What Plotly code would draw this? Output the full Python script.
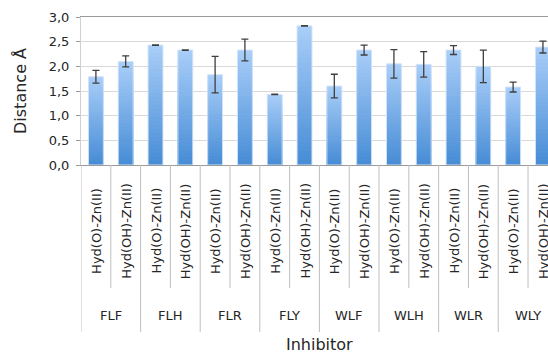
import plotly.graph_objects as go

groups = ["FLF", "FLH", "FLR", "FLY", "WLF", "WLH", "WLR", "WLY"]
subs = ["Hyd(O)-Zn(II)", "Hyd(OH)-Zn(II)"]
values = [1.79, 2.10, 2.43, 2.33, 1.83, 2.33, 1.43, 2.82,
          1.60, 2.33, 2.05, 2.04, 2.33, 2.00, 1.58, 2.39]
errors = [0.13, 0.11, 0.005, 0.005, 0.37, 0.22, 0.005, 0.005,
          0.24, 0.10, 0.29, 0.26, 0.09, 0.33, 0.10, 0.12]
y_ticks = [0, 0.5, 1.0, 1.5, 2.0, 2.5, 3.0]

x = list(range(len(values)))
FONT = "DejaVu Sans"
TXT = "#262626"
TOP = (168, 205, 248)
BOT = (72, 141, 214)
N = 30
BW = 0.5

fig = go.Figure()
for k in range(N):
    frac = (N - k) / N
    t = k / (N - 1)
    c = tuple(round(TOP[j] + (BOT[j] - TOP[j]) * t) for j in range(3))
    fig.add_trace(go.Bar(
        x=x, y=[v * frac for v in values], width=BW,
        marker=dict(color="rgb(%d,%d,%d)" % c, line=dict(width=0)),
        hoverinfo="skip", showlegend=False))

fig.add_trace(go.Bar(
    x=x, y=values, width=BW,
    marker=dict(color="rgba(0,0,0,0)", line=dict(color="#d3e4f8", width=1)),
    error_y=dict(type="data", array=errors, visible=True,
                 color="#3f3f3f", thickness=1.3, width=3.5),
    showlegend=False))

PH = 148.0
shapes = []
annotations = []
for i in range(len(values)):
    annotations.append(dict(
        x=x[i], xref="x", y=0, yref="paper", yshift=-66,
        text=subs[i % 2], textangle=-90, showarrow=False,
        xanchor="center", yanchor="middle",
        font=dict(family=FONT, size=13, color=TXT)))
for g in range(len(groups)):
    annotations.append(dict(
        x=2 * g + 0.5, xref="x", y=0, yref="paper", yshift=-150,
        text=groups[g], showarrow=False, xanchor="center", yanchor="middle",
        font=dict(family=FONT, size=13, color=TXT)))
    shapes.append(dict(type="line", xref="x", yref="paper",
                       x0=2 * g + 0.5, x1=2 * g + 0.5, y0=0, y1=-123 / PH,
                       line=dict(color="#bfbfbf", width=1)))
    shapes.append(dict(type="line", xref="x", yref="paper",
                       x0=2 * g - 0.5, x1=2 * g - 0.5, y0=0, y1=-167 / PH,
                       line=dict(color="#bfbfbf", width=1)))
shapes.append(dict(type="line", xref="x", yref="paper",
                   x0=15.5, x1=15.5, y0=0, y1=-167 / PH,
                   line=dict(color="#bfbfbf", width=1)))

annotations.append(dict(
    x=(319 - 81) / 467.0, xref="paper", y=0, yref="paper", yshift=-179,
    text="Inhibitor", showarrow=False, xanchor="center", yanchor="middle",
    font=dict(family=FONT, size=16, color=TXT)))

fig.update_layout(
    width=548, height=353,
    margin=dict(l=81, r=0, t=17, b=188),
    barmode="overlay",
    plot_bgcolor="white", paper_bgcolor="white",
    separators=",.",
    font=dict(family=FONT, size=13, color=TXT),
    shapes=shapes, annotations=annotations,
    xaxis=dict(range=[-0.5, 15.17], showticklabels=False, ticks="",
               showgrid=False, zeroline=False, showline=True,
               linecolor="#9a9a9a", linewidth=1, mirror=True, fixedrange=True),
    yaxis=dict(range=[0, 3.0], tickvals=y_ticks, tickformat=".1f",
               showgrid=True, gridcolor="#d9d9d9", gridwidth=1,
               zeroline=False, showline=True, linecolor="#d0d0d0",
               ticks="outside", ticklen=4, tickcolor="#9a9a9a",
               ticklabelstandoff=4, automargin=False, fixedrange=True,
               tickfont=dict(family=FONT, size=13, color=TXT),
               title=dict(text="Distance Å", standoff=18,
                          font=dict(family=FONT, size=16, color=TXT))),
)

fig.write_html("out.html", config={"displayModeBar": False},
               post_script="document.body.style.margin='0';")
